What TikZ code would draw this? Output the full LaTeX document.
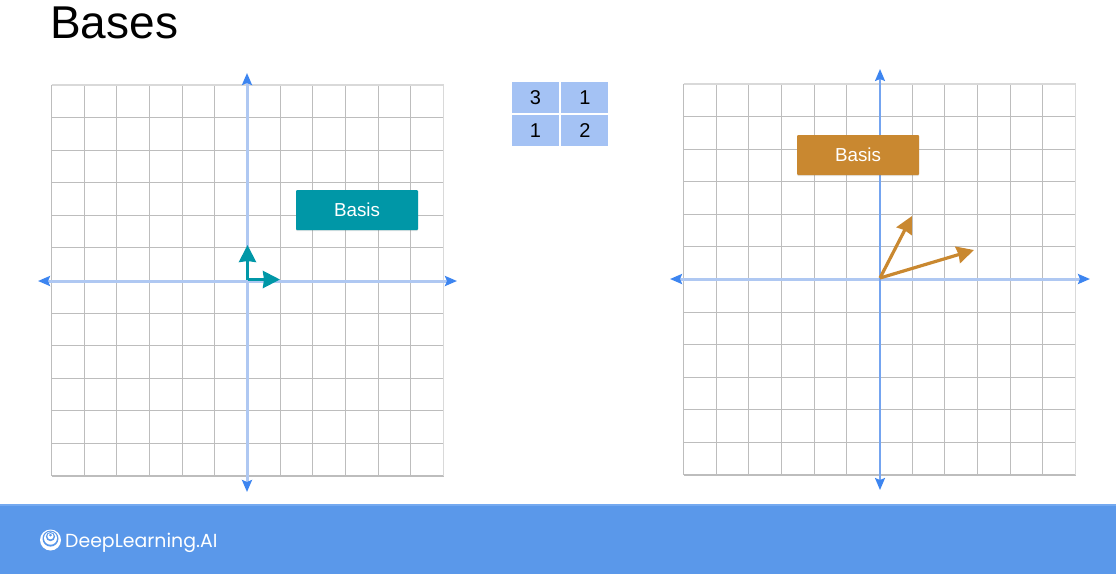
\documentclass[tikz,border=0pt]{standalone}
\usepackage{xcolor}
\usepackage{fontspec}
\setmainfont{Liberation Sans}
\newfontfamily\logofont{Poppins}
\usetikzlibrary{arrows.meta,positioning,shadows}
\definecolor{gridgray}{HTML}{BDBDBD}
\definecolor{gridlight}{HTML}{D9D9D9}
\definecolor{axispale}{HTML}{AFC8F2}
\definecolor{axisblue}{HTML}{74A4F0}
\definecolor{tipblue}{HTML}{3D85F0}
\definecolor{basisteal}{HTML}{0097A7}
\definecolor{basisbrown}{HTML}{C98830}
\definecolor{cellblue}{HTML}{A4C2F4}
\definecolor{bandblue}{HTML}{5A98EA}
\definecolor{bandlight}{HTML}{74A9F0}

\begin{document}
\begin{tikzpicture}[
x=1pt, y=-1pt,
gridline/.style={gridgray, line width=1.1pt},
axis/.style={{Stealth[length=12pt,width=10pt,inset=2pt,color=tipblue]}-{Stealth[length=12pt,width=10pt,inset=2pt,color=tipblue]}, line width=3pt, axispale},
basis/.style={rounded corners=1pt, minimum width=122pt, minimum height=40pt, inner sep=0pt, text=white, font=\fontsize{18.8}{22}\selectfont, drop shadow={shadow xshift=0pt, shadow yshift=-1pt, opacity=0.2}},
vector/.style={-{Stealth[length=17pt,width=17pt,inset=1pt]}, line width=3.2pt},
cell/.style={fill=cellblue, minimum width=47pt, minimum height=31pt, inner sep=0pt, font=\fontsize{20}{22}\selectfont}
]
\useasboundingbox (0,0) rectangle (1116,574);

% Title
\node[anchor=base west, inner sep=0pt, font=\fontsize{46}{50}\selectfont] (title) at (50,38.5) {Bases};

% Left grid
\foreach \i in {0,...,12} {
  \draw[gridline] ({51.5+32.67*\i},85) -- ({51.5+32.67*\i},476);
  \draw[gridline] (51.5,{85+32.58*\i}) -- (443.5,{85+32.58*\i});
}
\draw[gridline, gridlight] (51.5,85) -- (443.5,85) -- (443.5,476);

% Right grid
\foreach \i in {0,...,12} {
  \draw[gridline] ({683.5+32.67*\i},84) -- ({683.5+32.67*\i},475);
  \draw[gridline] (683.5,{84+32.58*\i}) -- (1075.5,{84+32.58*\i});
}
\draw[gridline, gridlight] (683.5,84) -- (1075.5,84) -- (1075.5,475);

% Axis end points
\coordinate (leftW) at (38,281);
\coordinate (leftE) at (457,281);
\coordinate (leftN) at (247,73);
\coordinate (leftS) at (247,492);
\coordinate (rightW) at (670,279);
\coordinate (rightE) at (1090,279);
\coordinate (rightN) at (880,69);
\coordinate (rightS) at (880,490);

% Axes
\draw[axis] (leftW) -- (leftE);
\draw[axis] (leftN) -- (leftS);
\draw[axis] (rightW) -- (rightE);
\draw[axis, axisblue, line width=2pt] (rightN) -- (rightS);

% Vector ends
\coordinate (leftO) at (247.5,279.5);
\coordinate (leftX) at (280,279.5);
\coordinate (leftY) at (247.5,245);
\coordinate (rightO) at (880,278);
\coordinate (rightA) at (912,216);
\coordinate (rightB) at (974,250);

% Teal basis
\draw[vector, basisteal] (leftO) -- (leftX);
\draw[vector, basisteal] (leftO) -- (leftY);

% Brown basis
\draw[vector, basisbrown] (rightO) -- (rightA);
\draw[vector, basisbrown] (rightO) -- (rightB);

% Labels
\node[basis, fill=basisteal] (basisL) at (357,210) {\raisebox{-1.2pt}{Basis}};
\node[basis, fill=basisbrown] (basisR) at (858,155) {\raisebox{-1.2pt}{Basis}};

% Matrix
\node[cell] (c11) at (535.5,97.5) {3};
\node[cell, right=2pt of c11] (c12) {1};
\node[cell, below=2pt of c11] (c21) {1};
\node[cell, right=2pt of c21] (c22) {2};

% Footer band
\fill[bandblue] (0,504) rectangle (1116,574);
\fill[bandlight] (0,504) rectangle (1116,506);

% Logo
\fill[white] (50.5,540) circle (10.5);
\fill[bandblue] (50.5,538.6) circle (8);
\fill[white] (50.5,538.2) circle (6.5);
\fill[bandblue] (50.5,536.6) circle (4.6);
\fill[white] (50.5,536.2) circle (3.1);
\fill[bandblue] (50.5,535) circle (1.5);
\node[anchor=base west, inner sep=0pt, text=white, font=\logofont\fontsize{18.9}{22}\selectfont] (logo) at (65,547) {DeepLearning.AI};
\end{tikzpicture}
\end{document}
